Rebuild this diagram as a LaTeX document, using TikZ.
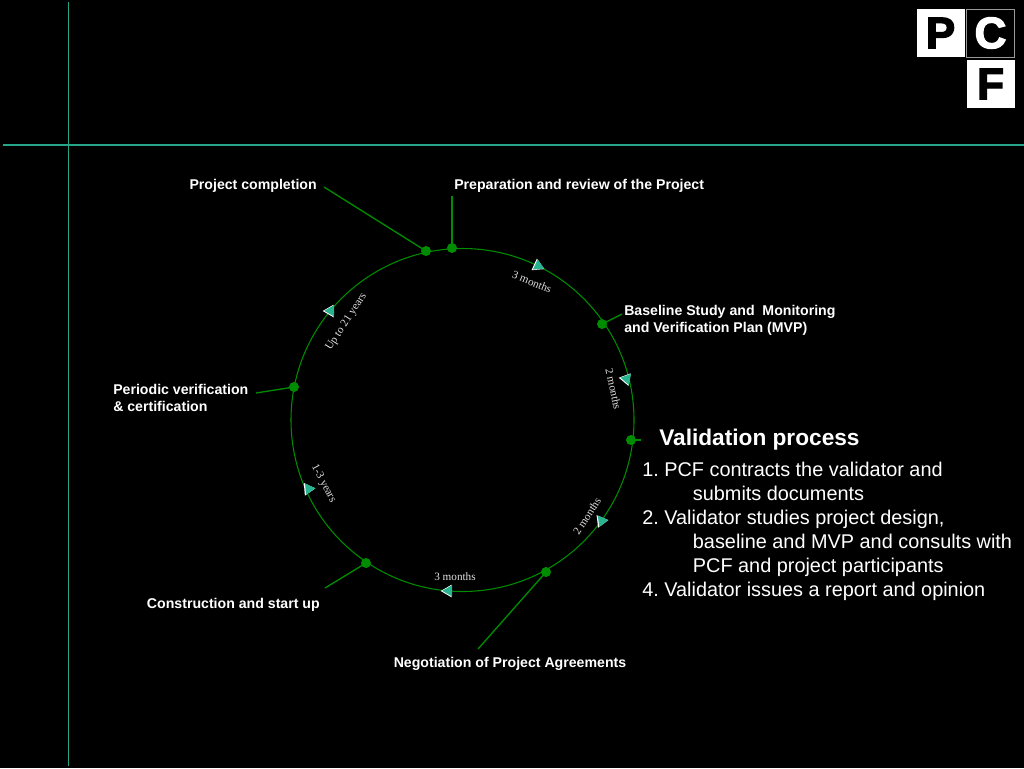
\documentclass[tikz,border=0pt]{standalone}
\usepackage{fontspec}
\usepackage{xcolor}
\setmainfont{Liberation Sans}
\newfontfamily\durfont{Liberation Serif}
\newfontfamily\logofont[FakeBold=3]{Liberation Sans Bold}
\frenchspacing
\usetikzlibrary{shapes.geometric}
\definecolor{ruleteal}{RGB}{38,166,136}
\definecolor{cyclegreen}{RGB}{0,140,0}
\definecolor{tipteal}{RGB}{40,180,145}
\tikzset{
  stage/.style={text=white, font=\fontsize{10.6}{12.75}\selectfont\bfseries, align=left, inner sep=0pt},
  dot/.style={circle, fill=cyclegreen, draw=none, minimum size=7.5pt, inner sep=0pt},
  leader/.style={draw=cyclegreen, line width=1pt},
  dur/.style={text=white!88!black, font=\fontsize{8.4}{9}\durfont, inner sep=0pt},
  tipedge/.style={regular polygon, regular polygon sides=3, fill=white, draw=none, minimum size=11pt, inner sep=0pt},
  tipcore/.style={regular polygon, regular polygon sides=3, fill=tipteal, draw=none, minimum size=9.8pt, inner sep=0pt},
  logobox/.style={minimum width=36pt, minimum height=36pt, inner sep=0pt, font=\fontsize{33}{33}\logofont}
}
\begin{document}
\begin{tikzpicture}[x=0.75pt,y=-0.75pt]
  \useasboundingbox[fill=black] (0,0) rectangle (1024,768);
  % Guide lines
  \draw[ruleteal, line width=1.1pt] (68.5,2) -- (68.5,766);
  \draw[ruleteal, line width=1pt] (3,145) -- (1024,145);

  % Logo
  \node[logobox, fill=white, text=black] (logoP) at (940.5,33) {P};
  \node[logobox, fill=black, text=white, draw=white!60!black, line width=0.5pt] (logoC) at (990.5,33) {C};
  \node[logobox, fill=white, text=black] (logoF) at (990.5,84) {F};

  % Cycle
  \draw[cyclegreen, line width=0.8pt] (462.5,420) circle (171.5);
  \node[dot] (prep) at (452,248) {};
  \node[dot] (done) at (426,251) {};
  \node[dot] (base) at (602,324) {};
  \node[dot] (valid) at (631,440) {};
  \node[dot] (nego) at (546,572) {};
  \node[dot] (build) at (366,563) {};
  \node[dot] (verify) at (294,387) {};

  % Labels
  \node[stage, anchor=west] (prepL) at (454,185.5) {Preparation and review of the Project};
  \node[stage, anchor=east] (doneL) at (317,185.5) {Project completion};
  \node[stage, anchor=west] (baseL) at (624,320.5) {Baseline Study and\ \ Monitoring\\and Verification Plan (MVP)};
  \node[stage, anchor=north] (negoL) at (510,657) {Negotiation of Project Agreements};
  \node[stage, anchor=east] (buildL) at (320,604.5) {Construction and start up};
  \node[stage, anchor=west] (verifyL) at (113,398) {Periodic verification\\\& certification};

  % Leaders
  \coordinate (prepE) at (452,196);
  \coordinate (doneE) at (324,187);
  \coordinate (baseE) at (622,314);
  \coordinate (validE) at (641,440);
  \coordinate (negoE) at (478,649);
  \coordinate (buildE) at (325,588);
  \coordinate (verifyE) at (256,393);
  \foreach \a in {prep, done, base, valid, nego, build, verify}
    \draw[leader] (\a.center) -- (\a E);

  % Durations
  \node[dur, rotate=-22] (d1) at (532,282) {3 months};
  \node[dur, rotate=-78] (d2) at (613.5,389) {2 months};
  \node[dur, rotate=57] (d3) at (587,516) {2 months};
  \node[dur] (d4) at (455,577) {3 months};
  \node[dur, rotate=-62] (d5) at (323.5,483.5) {1-3 years};
  \node[dur, rotate=57] (d6) at (346.5,322) {Up to 21 years};

  % Direction marks
  \foreach \n/\x/\y/\r in {t1/537.5/266/5, t2/626/379/80, t3/601/521/-83, t4/448/591/90, t5/308/489/-85, t6/330/311/90} {
    \node[tipedge, shape border rotate=\r] (\n) at (\x,\y) {};
    \node[tipcore, shape border rotate=\r] (\n c) at (\x+0.8,\y-0.2) {};
  }

  % Validation text
  \node[text=white, anchor=west, inner sep=0pt, font=\fontsize{17}{19}\selectfont\bfseries] (valT) at (659,439.5) {Validation process};
  \node[text=white, anchor=north west, inner sep=0pt, align=left, font=\fontsize{14.9}{18}\selectfont] (valB) at (642,462)
    {1. PCF contracts the validator and\\
     \hspace*{38pt}submits documents\\
     2. Validator studies project design,\\
     \hspace*{38pt}baseline and MVP and consults with\\
     \hspace*{38pt}PCF and project participants\\
     4. Validator issues a report and opinion};
\end{tikzpicture}
\end{document}
